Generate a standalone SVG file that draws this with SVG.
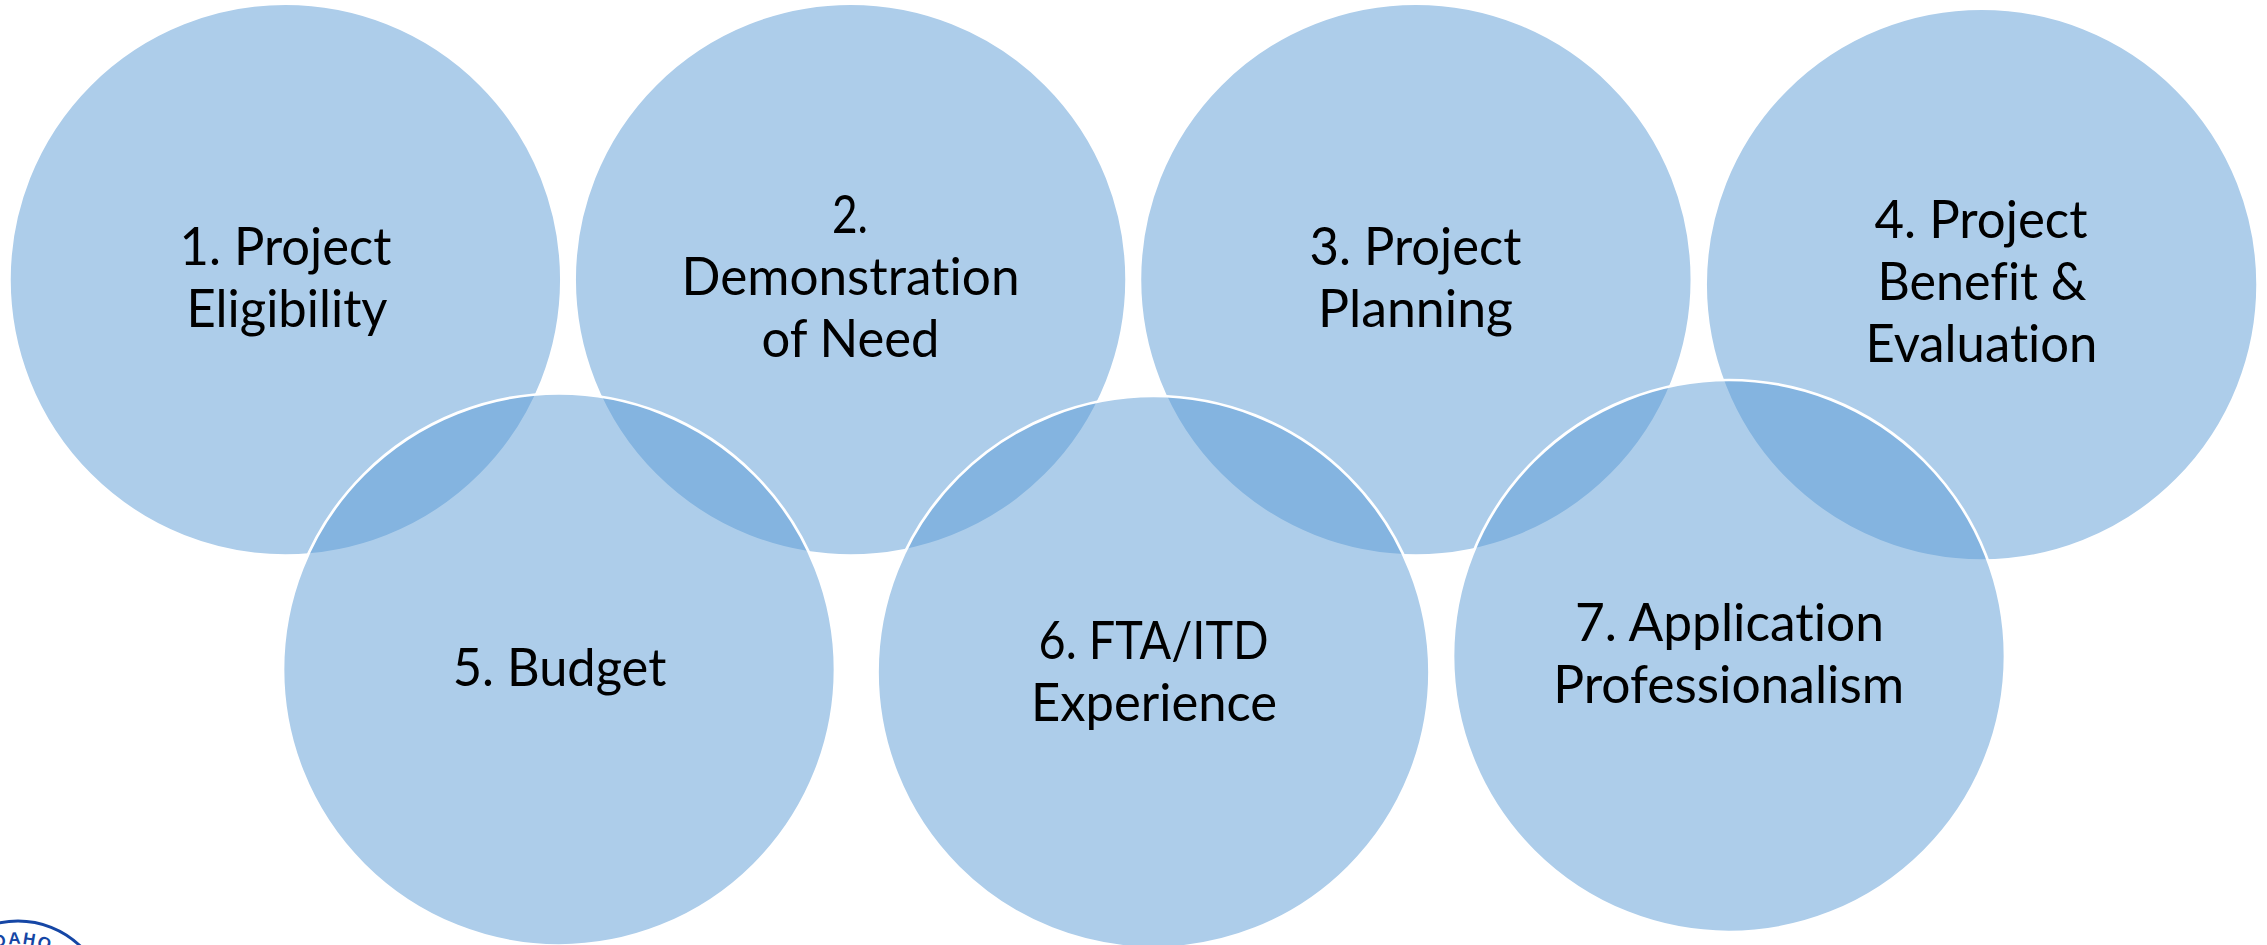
<svg xmlns="http://www.w3.org/2000/svg" width="2267" height="945" viewBox="0 0 2267 945">
<style>
.c{fill:#5B9BD5;fill-opacity:.5;stroke:#fff;stroke-width:2.7}
.t{font-family:"Lato","Carlito","Liberation Sans",sans-serif;font-size:53px;fill:#000;text-anchor:middle;font-variant-ligatures:none}
.l{font-family:"Liberation Sans",sans-serif;font-weight:700;font-size:17px;fill:#1546A5;letter-spacing:1.5px}
</style>
<rect width="2267" height="945" fill="#fff"/>
<g id="logo">
<path d="M-72 1011A90 90 0 0 1 108 1011" fill="none" stroke="#1546A5" stroke-width="3"/>
<path id="logoArc" d="M-32 966.4A67 67 0 0 1 68 966.4" fill="none"/>
<text class="l"><textPath href="#logoArc" startOffset="33">DAHO</textPath></text>
</g>
<g id="connectors"/>
<g id="node1"><circle class="c" cx="285.4" cy="279.6" r="276"/>
<text class="t"><tspan x="285.5" y="265" textLength="212" lengthAdjust="spacingAndGlyphs">1. Project</tspan><tspan x="287" y="327" textLength="201" lengthAdjust="spacingAndGlyphs">Eligibility</tspan></text></g>
<g id="node2"><circle class="c" cx="850.6" cy="279.6" r="276"/>
<text class="t"><tspan x="850" y="233" textLength="36" lengthAdjust="spacingAndGlyphs">2.</tspan><tspan x="850.5" y="295" textLength="338" lengthAdjust="spacingAndGlyphs">Demonstration</tspan><tspan x="850.5" y="357" textLength="178" lengthAdjust="spacingAndGlyphs">of Need</tspan></text></g>
<g id="node3"><circle class="c" cx="1415.9" cy="279.6" r="276"/>
<text class="t"><tspan x="1415.5" y="265" textLength="212" lengthAdjust="spacingAndGlyphs">3. Project</tspan><tspan x="1415.5" y="327" textLength="195" lengthAdjust="spacingAndGlyphs">Planning</tspan></text></g>
<g id="node4"><circle class="c" cx="1981.6" cy="284.6" r="276"/>
<text class="t"><tspan x="1981" y="238.3" textLength="213" lengthAdjust="spacingAndGlyphs">4. Project</tspan><tspan x="1982" y="300" textLength="209" lengthAdjust="spacingAndGlyphs">Benefit &amp;</tspan><tspan x="1981.5" y="361.7" textLength="232" lengthAdjust="spacingAndGlyphs">Evaluation</tspan></text></g>
<g id="node5"><circle class="c" cx="559" cy="669.5" r="276"/>
<text class="t"><tspan x="559.5" y="685.7" textLength="213.6" lengthAdjust="spacingAndGlyphs">5. Budget</tspan></text></g>
<g id="node6"><circle class="c" cx="1153.5" cy="672" r="276"/>
<text class="t"><tspan x="1153.6" y="659.3" textLength="230" lengthAdjust="spacingAndGlyphs">6. FTA/ITD</tspan><tspan x="1154" y="720.7" textLength="246" lengthAdjust="spacingAndGlyphs">Experience</tspan></text></g>
<g id="node7"><circle class="c" cx="1729" cy="656" r="276"/>
<text class="t"><tspan x="1729.5" y="641" textLength="309" lengthAdjust="spacingAndGlyphs">7. Application</tspan><tspan x="1728.7" y="702.7" textLength="351" lengthAdjust="spacingAndGlyphs">Professionalism</tspan></text></g>
</svg>
